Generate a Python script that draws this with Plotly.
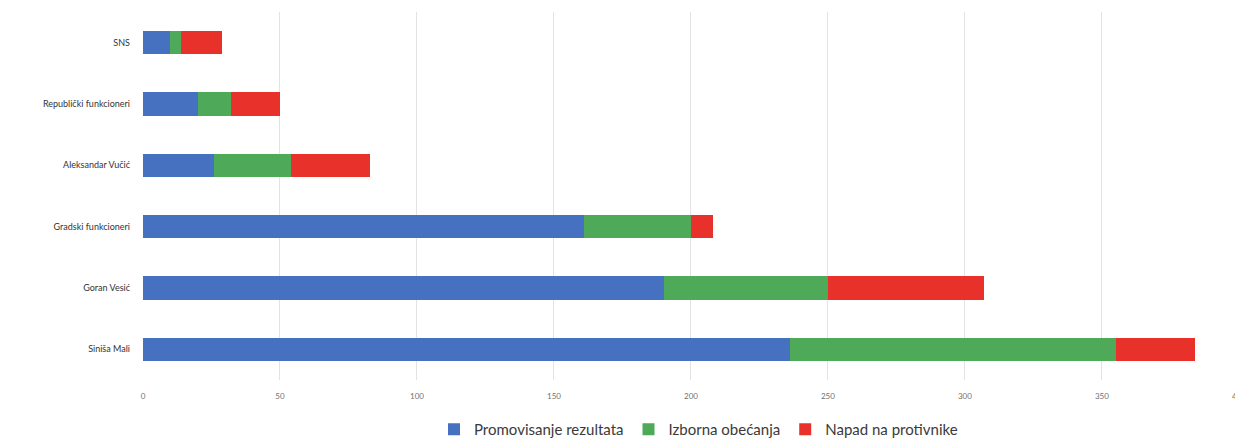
import plotly.graph_objects as go

categories = ["SNS", "Republički funkcioneri", "Aleksandar Vučić",
              "Gradski funkcioneri", "Goran Vesić", "Siniša Mali"]
promovisanje = [10, 20, 26, 161, 190, 236]
izborna = [4, 12, 28, 39, 60, 119]
napad = [15, 18, 29, 8, 57, 29]
series_names = ["Promovisanje rezultata", "Izborna obećanja", "Napad na protivnike"]
x_ticks = [0, 50, 100, 150, 200, 250, 300, 350, 400]

colors = ["#4670C0", "#4EAA58", "#E8312A"]

fig = go.Figure()
for name, vals, col in zip(series_names, [promovisanje, izborna, napad], colors):
    fig.add_trace(go.Bar(
        y=categories, x=vals, name=name, orientation="h",
        marker=dict(color=col, line=dict(width=0)),
    ))

fig.update_layout(
    barmode="stack",
    bargap=0.62,
    width=1235, height=438,
    margin=dict(l=135, r=0, t=4, b=50),
    plot_bgcolor="white", paper_bgcolor="white",
    font=dict(family="Lato, Open Sans, sans-serif", color="#404040"),
    showlegend=True,
    legend=dict(orientation="h", x=0.505, xanchor="center", y=-0.09, yanchor="top",
                font=dict(size=15, color="#3a3a3a"), traceorder="normal",
                itemwidth=30, tracegroupgap=0),
    xaxis=dict(range=[0, 401.5], tickvals=x_ticks, ticktext=[str(v) for v in x_ticks],
               showgrid=True, gridcolor="#E3E3E3", gridwidth=1, zeroline=False,
               showline=False, tickfont=dict(size=8, color="#707070"),
               ticklabelstandoff=10, automargin=False, ticklabeloverflow="allow"),
    yaxis=dict(autorange="reversed", showgrid=False, showline=False, zeroline=False,
               tickfont=dict(size=9, color="#333333"), ticklabelstandoff=12),
)

fig.write_html("out.html")
